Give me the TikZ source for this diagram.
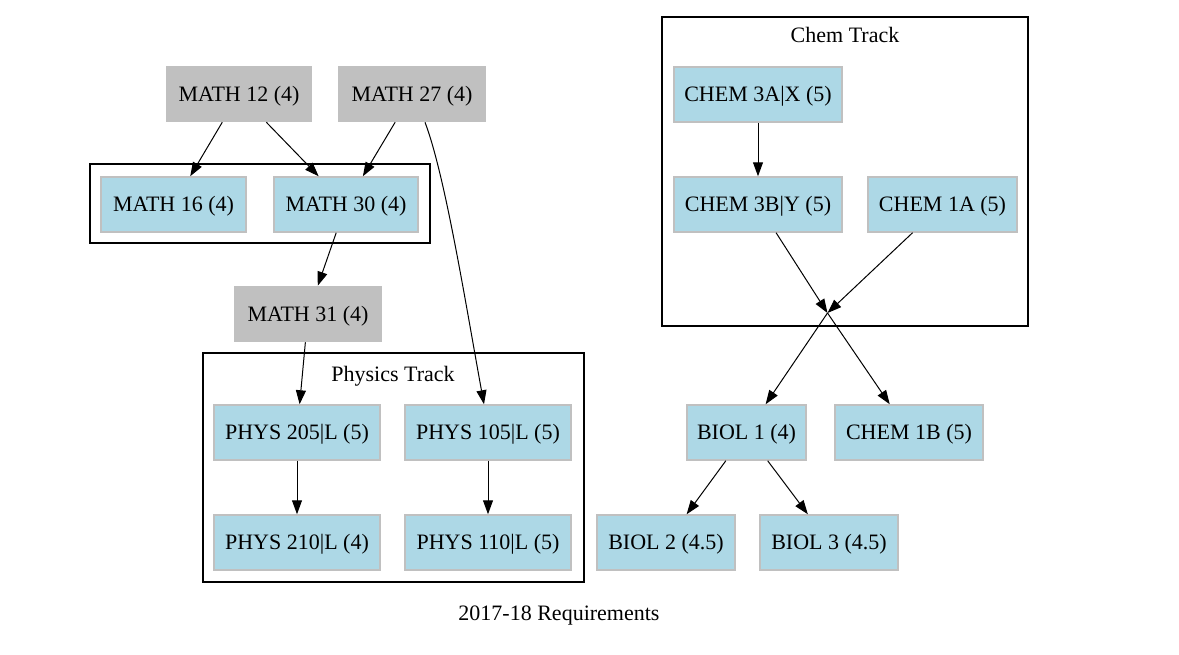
\documentclass[tikz,border=0pt]{standalone}
\usepackage{fontspec}
\setmainfont{Liberation Serif}
\usetikzlibrary{arrows.meta}
\definecolor{lb}{HTML}{ADD8E6}
\definecolor{gr}{HTML}{C0C0C0}
\begin{document}
\begin{tikzpicture}[x=1pt,y=-1pt,
  every node/.style={font=\fontsize{22}{26}\selectfont, text height=14.6pt, text depth=0pt},
  course/.style={draw=gr, line width=1.5pt, fill=lb, minimum height=55pt, inner xsep=0pt, inner ysep=0pt},
  req/.style={draw=gr, line width=1.5pt, fill=gr, minimum height=55pt, inner xsep=0pt, inner ysep=0pt},
  edge/.style={-{Triangle[length=14pt,width=10pt]}, line width=1pt},
  cluster/.style={draw=black, line width=2pt}]
\useasboundingbox (0,0) rectangle (1179,654);
% clusters
\draw[cluster] (90,164) rectangle (430,243);
\draw[cluster] (203,353) rectangle (584,582);
\draw[cluster] (662,17) rectangle (1028,326);
\node (phystitle) at (393,374) {Physics Track};
\node (chemtitle) at (845,35) {Chem Track};
% nodes
\node[req, minimum width=144pt] (m12) at (239,94) {MATH 12 (4)};
\node[req, minimum width=146pt] (m27) at (412,94) {MATH 27 (4)};
\node[course, minimum width=145pt] (m16) at (173.5,204.5) {MATH 16 (4)};
\node[course, minimum width=144pt] (m30) at (346,204.5) {MATH 30 (4)};
\node[req, minimum width=146pt] (m31) at (308,314) {MATH 31 (4)};
\node[course, minimum width=166pt] (p205) at (297,432.5) {PHYS 205|L (5)};
\node[course, minimum width=166pt] (p105) at (488,432.5) {PHYS 105|L (5)};
\node[course, minimum width=166pt] (p210) at (297,542.5) {PHYS 210|L (4)};
\node[course, minimum width=166pt] (p110) at (488,542.5) {PHYS 110|L (5)};
\node[course, minimum width=168pt] (c3a) at (758,94.5) {CHEM 3A|X (5)};
\node[course, minimum width=168pt] (c3b) at (758,204.5) {CHEM 3B|Y (5)};
\node[course, minimum width=149pt] (c1a) at (942.5,204.5) {CHEM 1A (5)};
\coordinate (pt) at (827.5,313);
\node[course, minimum width=119pt] (b1) at (746.5,432.5) {BIOL 1 (4)};
\node[course, minimum width=148pt] (c1b) at (909,432.5) {CHEM 1B (5)};
\node[course, minimum width=138pt] (b2) at (666,542.5) {BIOL 2 (4.5)};
\node[course, minimum width=138pt] (b3) at (829,542.5) {BIOL 3 (4.5)};
\node (title) at (559,613) {2017-18 Requirements};
% edges
\draw[edge] (m12) -- (m16);
\draw[edge] (m12) -- (m30);
\draw[edge] (m27) -- (m30);
\draw[edge] ([xshift=13pt]m27.south) .. controls (445,175) and (465,300) .. ([xshift=-4pt]p105.north);
\draw[edge] (m30) -- (m31);
\draw[edge] (m31) -- (p205);
\draw[edge] (p205) -- (p210);
\draw[edge] (p105) -- (p110);
\draw[edge] (c3a) -- (c3b);
\draw[edge] (c3b) -- (pt);
\draw[edge] (c1a) -- (pt);
\draw[edge] (pt) -- (b1);
\draw[edge] (pt) -- (c1b);
\draw[edge] (b1) -- (b2);
\draw[edge] (b1) -- (b3);
\end{tikzpicture}
\end{document}
